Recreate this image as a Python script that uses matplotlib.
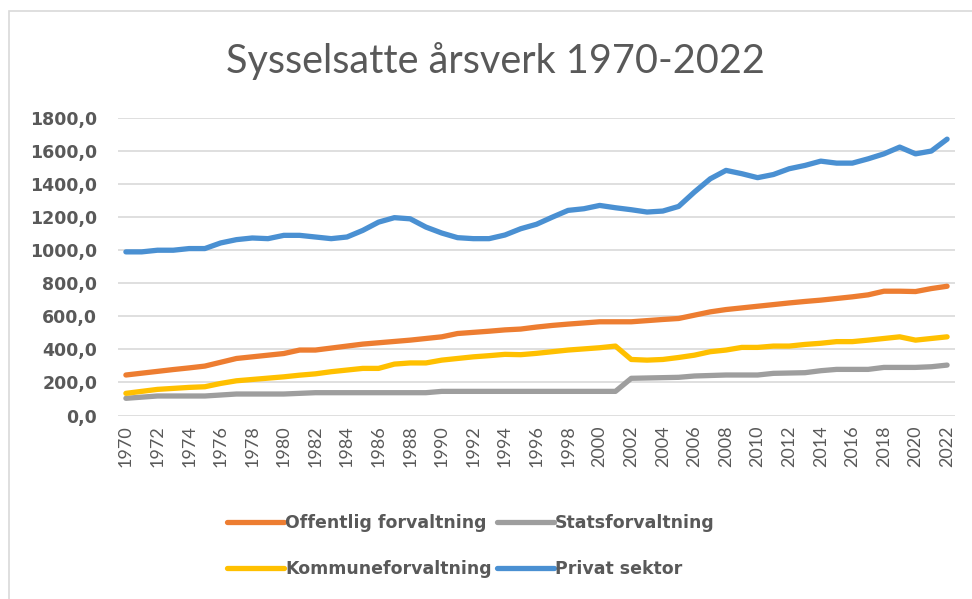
import numpy as np
import matplotlib.pyplot as plt
from matplotlib.patches import Rectangle

# data
years = np.arange(1970, 2023)
privat = [990, 990, 1000, 1000, 1010, 1010, 1044, 1064, 1074, 1070,
          1090, 1090, 1080, 1070, 1080, 1120, 1170, 1197, 1190, 1140,
          1104, 1076, 1070, 1070, 1092, 1130, 1157, 1200, 1241, 1251,
          1271, 1257, 1245, 1231, 1237, 1265, 1352, 1432, 1483, 1463,
          1439, 1458, 1493, 1513, 1539, 1527, 1527, 1553, 1583, 1624,
          1583, 1600, 1672]
offentlig = [245, 256, 267, 278, 288, 299, 322, 345, 355, 365,
             375, 396, 396, 408, 420, 432, 440, 448, 456, 466,
             476, 496, 503, 510, 518, 523, 535, 545, 553, 560,
             567, 567, 567, 574, 581, 587, 607, 627, 641, 651,
             661, 671, 681, 690, 698, 708, 718, 730, 752, 752,
             750, 768, 782]
kommune = [134, 146, 158, 164, 170, 174, 194, 210, 218, 226,
           234, 244, 252, 265, 275, 285, 285, 311, 318, 318,
           335, 345, 355, 362, 370, 368, 376, 386, 396, 403,
           410, 420, 339, 335, 339, 351, 365, 386, 396, 412,
           412, 420, 420, 430, 437, 447, 447, 456, 466, 476,
           456, 466, 476]
stat = [104, 111, 118, 118, 118, 118, 124, 130, 130, 130,
        130, 134, 138, 138, 138, 138, 138, 138, 138, 138,
        146, 146, 146, 146, 146, 146, 146, 146, 146, 146,
        146, 146, 225, 227, 229, 231, 239, 242, 245, 245,
        245, 255, 257, 259, 271, 279, 279, 279, 291, 291,
        291, 295, 305]

labels = ['Offentlig forvaltning', 'Statsforvaltning',
          'Kommuneforvaltning', 'Privat sektor']
colors = ['#ED7D31', '#9E9E9E', '#FFC000', '#4A90D2']

txt = '#595959'
plt.rcParams['font.family'] = ['Lato', 'DejaVu Sans']
boldfont = ['DejaVu Sans']

fig = plt.figure(figsize=(9.72, 5.99), dpi=100)
# chart border (cropped on right/bottom in the reference)
fig.patches.append(Rectangle((9/972, -0.1), 1.2, 1 - 11/599 + 0.1,
                             transform=fig.transFigure, fill=False,
                             edgecolor='#D9D9D9', linewidth=1.2))

ax = fig.add_axes([118/972, 1 - 415.5/599, (955 - 118)/972, (415.5 - 118)/599])
series = [offentlig, stat, kommune, privat]
lines = []
for vals, lab, c in zip(series, labels, colors):
    ln, = ax.plot(years, vals, color=c, linewidth=3.8, label=lab,
                  solid_capstyle='round', solid_joinstyle='round')
    lines.append(ln)

ax.set_xlim(1969.5, 2022.5)
ax.set_ylim(0, 1800)
ax.set_yticks(np.arange(0, 1801, 200))
ax.set_yticklabels([f'{v},0' for v in range(0, 1801, 200)],
                   fontsize=12.5, fontweight='bold', color=txt,
                   family=boldfont)
ax.set_xticks(years[::2])
ax.set_xticklabels([str(y) for y in years[::2]], rotation=90,
                   fontsize=13, color=txt)
ax.tick_params(length=0, pad=7)
ax.tick_params(axis='y', pad=15)
ax.grid(axis='y', color='#D9D9D9', linewidth=1.2)
ax.set_axisbelow(True)
for s in ax.spines.values():
    s.set_visible(False)

fig.text(495/972, 1 - 61/599, 'Sysselsatte årsverk 1970-2022',
         ha='center', va='center', fontsize=28.5, color=txt)

# legend fills column-wise: order so rows read Offentlig/Stats, Kommune/Privat
order = [0, 2, 1, 3]
leg = fig.legend([lines[i] for i in order], [labels[i] for i in order],
                 loc='center', bbox_to_anchor=(471/972, 1 - 546/599),
                 ncol=2, frameon=False, handlelength=3.3, handletextpad=0.05,
                 columnspacing=0.3, labelspacing=1.65,
                 prop={'size': 12.5, 'weight': 'bold', 'family': boldfont})
for t in leg.get_texts():
    t.set_color(txt)

fig.savefig('out.png', dpi=100, facecolor='white')
